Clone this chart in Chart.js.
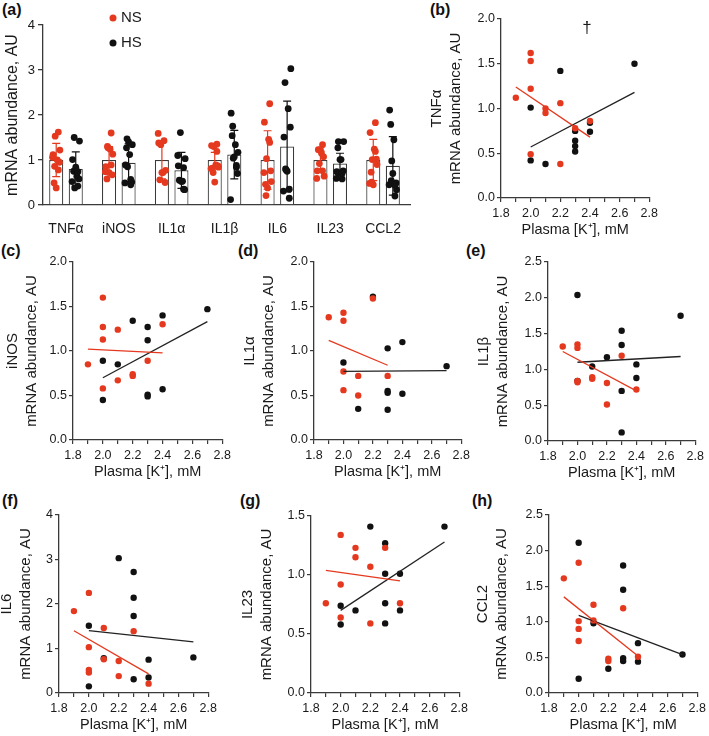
<!DOCTYPE html>
<html>
<head>
<meta charset="utf-8">
<script src="https://cdn.jsdelivr.net/npm/chart.js@4"></script>
<style>
  body { margin: 0; background: #fff; width: 709px; height: 736px; position: relative; overflow: hidden;
         font-family: Arial, "Liberation Sans", sans-serif; }
  canvas { position: absolute; }
  .tag { position: absolute; font-weight: bold; font-size: 16px; line-height: 16px; color: #111; }
</style>
</head>
<body>
<div class="tag" style="left:2px;top:2px">(a)</div>
<div class="tag" style="left:430px;top:2px">(b)</div>
<div class="tag" style="left:1px;top:243px">(c)</div>
<div class="tag" style="left:238px;top:243px">(d)</div>
<div class="tag" style="left:466px;top:243px">(e)</div>
<div class="tag" style="left:2px;top:493px">(f)</div>
<div class="tag" style="left:240px;top:493px">(g)</div>
<div class="tag" style="left:472px;top:493px">(h)</div>

<canvas id="barChart"></canvas>
<canvas id="tnfChart"></canvas>
<canvas id="inosChart"></canvas>
<canvas id="il1aChart"></canvas>
<canvas id="il1bChart"></canvas>
<canvas id="il6Chart"></canvas>
<canvas id="il23Chart"></canvas>
<canvas id="ccl2Chart"></canvas>

<script>
const genes = ["TNFα", "iNOS", "IL1α", "IL1β", "IL6", "IL23", "CCL2"];

// bar heights and SD (panel a)
const nsMean = [1.0, 1.0, 1.0, 1.0, 1.0, 1.0, 1.0];
const hsMean = [0.80, 0.94, 0.77, 1.12, 1.30, 0.92, 0.87];
const nsSD = [0.37, 0.30, 0.42, 0.17, 0.65, 0.20, 0.46];
const hsSD = [0.38, 0.42, 0.40, 0.54, 1.01, 0.23, 0.65];

// plasma K+ of each animal, same order in every gene list below
const nsK = [1.9, 2.0, 2.0, 2.0, 2.0, 2.1, 2.1, 2.2, 2.2, 2.3, 2.4];
const hsK = [2.0, 2.0, 2.1, 2.2, 2.3, 2.3, 2.3, 2.3, 2.4, 2.4, 2.7];

const nsTNFa = [1.12, 1.62, 1.53, 1.22, 0.49, 1.00, 0.95, 1.06, 0.38, 0.78, 0.86];
const hsTNFa = [1.01, 0.42, 0.38, 1.42, 0.75, 0.64, 0.58, 0.52, 0.84, 0.74, 1.50];
const nsINOS = [0.85, 1.60, 1.27, 1.13, 0.58, 1.24, 0.67, 0.74, 0.72, 0.89, 1.30];
const hsINOS = [0.89, 0.45, 0.85, 1.34, 1.27, 1.12, 0.51, 0.49, 1.40, 0.57, 1.47];
const nsIL1a = [1.38, 1.43, 1.34, 0.77, 0.56, 0.72, 0.50, 1.59, null, 0.72, null];
const hsIL1a = [0.87, null, 0.35, 1.61, 1.03, 0.55, 0.53, 0.34, 1.10, 0.52, 0.83];
const nsIL1b = [1.32, 1.35, 1.30, 0.84, 0.82, 0.89, 0.87, 0.81, 0.51, 1.19, 0.72];
const hsIL1b = [2.04, 0.84, 1.04, 1.17, 1.54, 1.34, 0.70, 0.12, 1.07, 0.88, 1.75];
const nsIL6 = [1.84, 2.25, 1.03, 0.52, 0.46, 1.46, 0.76, 0.72, 0.38, 1.39, 0.21];
const hsIL6 = [1.51, 0.15, 0.78, 3.03, 2.72, 2.14, 1.73, 0.31, 0.75, 0.35, 0.80];
const nsIL23 = [0.76, 1.34, 0.92, 0.64, null, 1.23, 1.15, 1.07, 0.59, 1.23, 0.76];
const hsIL23 = [0.74, 0.58, 0.70, 1.41, 1.27, 1.01, 0.76, 0.59, 1.01, 0.70, 1.41];
const nsCCL2 = [1.61, 1.83, 1.01, 0.90, 0.73, 1.24, 1.02, 0.48, 0.45, 1.19, 0.51];
const hsCCL2 = [2.11, 0.20, 0.98, 0.34, 1.79, 1.45, 0.49, 0.45, 0.70, 0.44, 0.54];

const nsVals = [nsTNFa, nsINOS, nsIL1a, nsIL1b, nsIL6, nsIL23, nsCCL2];
const hsVals = [hsTNFa, hsINOS, hsIL1a, hsIL1b, hsIL6, hsIL23, hsCCL2];

// regression line ends (K+, value)
const nsFitK = [[1.9, 2.4], [1.9, 2.4], [1.9, 2.3], [1.9, 2.4], [1.9, 2.4], [1.9, 2.4], [1.9, 2.4]];
const nsFitY = [[1.24, 0.68], [1.02, 0.98], [1.12, 0.84], [1.25, 0.70], [1.40, 0.43], [1.04, 0.95], [1.35, 0.52]];
const hsFitK = [[2.0, 2.7], [2.0, 2.7], [2.0, 2.7], [2.0, 2.7], [2.0, 2.7], [2.0, 2.7], [2.0, 2.7]];
const hsFitY = [[0.57, 1.18], [0.70, 1.33], [0.77, 0.78], [1.10, 1.18], [1.40, 1.15], [0.70, 1.28], [1.09, 0.54]];

const yMax = [2, 2, 2, 2.5, 4, 1.5, 2.5];
const yStep = [0.5, 0.5, 0.5, 0.5, 1, 0.5, 0.5];

const RED = "#e5391f";
const BLACK = "#111111";
const AXIS = "#3a3a3a";
const FONT = 'Arial, "Liberation Sans", sans-serif';

Chart.defaults.font.family = FONT;
Chart.defaults.color = "#1a1a1a";
Chart.defaults.animation = false;
Chart.defaults.plugins.legend.display = false;
Chart.defaults.plugins.tooltip.enabled = false;

// error bars over the bars of panel a
const errorBars = {
  id: "errorBars",
  afterDatasetDraw(chart, args) {
    const ds = chart.data.datasets[args.index];
    if (!ds.sd) return;
    const ctx = chart.ctx;
    const y = chart.scales.y;
    ctx.save();
    ctx.strokeStyle = ds.errColor;
    ctx.lineWidth = 1.2;
    args.meta.data.forEach((bar, i) => {
      const m = ds.data[i].y;
      const top = y.getPixelForValue(m + ds.sd[i]);
      const bot = y.getPixelForValue(m - ds.sd[i]);
      ctx.beginPath();
      ctx.moveTo(bar.x, top); ctx.lineTo(bar.x, bot);
      ctx.moveTo(bar.x - 4, top); ctx.lineTo(bar.x + 4, top);
      ctx.moveTo(bar.x - 4, bot); ctx.lineTo(bar.x + 4, bot);
      ctx.stroke();
    });
    ctx.restore();
  }
};

// NS / HS key of panel a
const dotKey = {
  id: "dotKey",
  afterDraw(chart) {
    const ctx = chart.ctx;
    const a = chart.chartArea;
    const rows = [["NS", RED, -7], ["HS", BLACK, 18]];
    ctx.save();
    ctx.font = "15px " + FONT;
    ctx.textBaseline = "middle";
    rows.forEach(r => {
      ctx.fillStyle = r[1];
      ctx.beginPath();
      ctx.arc(a.left + 70, a.top + r[2], 3.5, 0, Math.PI * 2);
      ctx.fill();
      ctx.fillStyle = "#1a1a1a";
      ctx.fillText(r[0], a.left + 78, a.top + r[2]);
    });
    ctx.restore();
  }
};

// dagger mark of panel b
const dagger = {
  id: "dagger",
  afterDatasetsDraw(chart, args, opts) {
    if (!opts.text) return;
    const ctx = chart.ctx;
    ctx.save();
    ctx.font = "17px " + FONT;
    ctx.fillStyle = "#1a1a1a";
    ctx.textAlign = "center";
    ctx.textBaseline = "middle";
    ctx.fillText(opts.text, chart.scales.x.getPixelForValue(opts.at[0]), chart.scales.y.getPixelForValue(opts.at[1]));
    ctx.restore();
  }
};

// put a canvas so that its plot area lands on the given box
function place(cv, area, axisLeft, padT, padR, xH) {
  const cl = Math.round(axisLeft);
  const ct = Math.round(area[1]) - padT;
  cv.style.left = cl + "px";
  cv.style.top = ct + "px";
  cv.width = Math.round(area[2]) - cl + padR;
  cv.height = Math.round(area[3]) - ct + xH;
  return Math.round(area[0]) - cl;
}

// ---- panel a ----
const spread = [-0.06, 0.04, -0.02, 0.07, -0.04, 0.02, 0.06, -0.07, 0.0, 0.04, -0.03];
const half = 0.185;
function groupPoints(vals, side) {
  const pts = [];
  vals.forEach((list, g) => {
    let j = 0;
    list.forEach(v => {
      if (v === null) return;
      pts.push({ x: g + side * half + spread[j % spread.length], y: v });
      j++;
    });
  });
  return pts;
}

const barCv = document.getElementById("barChart");
const barYW = place(barCv, [43, 25, 410, 205], 0, 20, 10, 30);
new Chart(barCv, {
  type: "bar",
  data: {
    datasets: [
      { type: "scatter", data: groupPoints(nsVals, -1), backgroundColor: RED, borderWidth: 0, pointRadius: 3.4 },
      { type: "scatter", data: groupPoints(hsVals, 1), backgroundColor: BLACK, borderWidth: 0, pointRadius: 3.4 },
      { type: "bar", data: nsMean.map((v, i) => ({ x: i, y: v })), sd: nsSD, errColor: RED,
        backgroundColor: "#ffffff", borderColor: AXIS, borderWidth: 1.2,
        categoryPercentage: 0.74, barPercentage: 0.72 },
      { type: "bar", data: hsMean.map((v, i) => ({ x: i, y: v })), sd: hsSD, errColor: BLACK,
        backgroundColor: "#ffffff", borderColor: AXIS, borderWidth: 1.2,
        categoryPercentage: 0.74, barPercentage: 0.72 }
    ]
  },
  options: {
    responsive: false,
    layout: { padding: { top: 20, right: 10, left: 0, bottom: 0 } },
    scales: {
      x: {
        type: "linear", offset: false, min: -0.435, max: 6.51,
        afterFit: s => { s.height = 30; },
        grid: { display: false },
        border: { color: AXIS, width: 1.3 },
        ticks: {
          stepSize: 1, includeBounds: false, autoSkip: false, maxRotation: 0, padding: 8,
          font: { size: 14 },
          callback: v => Number.isInteger(v) ? genes[v] : ""
        }
      },
      y: {
        min: 0, max: 4,
        afterFit: s => { s.width = barYW; },
        grid: { drawOnChartArea: false, tickLength: 5, color: AXIS, lineWidth: 1.3 },
        border: { color: AXIS, width: 1.3 },
        ticks: { stepSize: 1, padding: 3, font: { size: 13 } },
        title: { display: true, text: "mRNA abundance, AU", font: { size: 16, lineHeight: 1.2 }, padding: { top: 3, bottom: 4 } }
      }
    }
  },
  plugins: [errorBars, dotKey]
});

// ---- panels b-h ----
function pairs(ks, vals) {
  const out = [];
  ks.forEach((k, i) => { if (vals[i] !== null) out.push({ x: k, y: vals[i] }); });
  return out;
}

function scatterPanel(id, g, area, titleX, mark) {
  const lh = 15 * 1.22;
  const cv = document.getElementById(id);
  const yW = place(cv, area, titleX - 4 - lh / 2, 10, 12, 45);
  new Chart(cv, {
    type: "scatter",
    data: {
      datasets: [
        { data: [{ x: nsFitK[g][0], y: nsFitY[g][0] }, { x: nsFitK[g][1], y: nsFitY[g][1] }],
          showLine: true, pointRadius: 0, borderColor: RED, borderWidth: 1.3 },
        { data: [{ x: hsFitK[g][0], y: hsFitY[g][0] }, { x: hsFitK[g][1], y: hsFitY[g][1] }],
          showLine: true, pointRadius: 0, borderColor: "#222222", borderWidth: 1.3 },
        { data: pairs(nsK, nsVals[g]), backgroundColor: RED, borderWidth: 0, pointRadius: 3.2 },
        { data: pairs(hsK, hsVals[g]), backgroundColor: BLACK, borderWidth: 0, pointRadius: 3.2 }
      ]
    },
    options: {
      responsive: false,
      clip: false,
      layout: { padding: { top: 10, right: 12, left: 0, bottom: 0 } },
      plugins: { dagger: mark || {} },
      scales: {
        x: {
          type: "linear", min: 1.8, max: 2.8,
          afterFit: s => { s.height = 45; },
          grid: { drawOnChartArea: false, tickLength: 4, color: AXIS, lineWidth: 1.2 },
          border: { color: AXIS, width: 1.3 },
          ticks: {
            stepSize: 0.1, autoSkip: false, maxRotation: 0, padding: 4, font: { size: 12.5 },
            callback: v => Math.round(v * 10) % 2 === 0 ? v.toFixed(1) : ""
          },
          title: { display: true, text: "Plasma [K⁺], mM", font: { size: 14.5, lineHeight: 1.2 }, padding: { top: 2, bottom: 4 } }
        },
        y: {
          min: 0, max: yMax[g],
          afterFit: s => { s.width = yW; },
          grid: { drawOnChartArea: false, tickLength: 4, color: AXIS, lineWidth: 1.2 },
          border: { color: AXIS, width: 1.3 },
          ticks: {
            stepSize: yStep[g], padding: 2, font: { size: 12.5 },
            callback: v => yStep[g] < 1 ? v.toFixed(1) : String(v)
          },
          title: { display: true, text: [genes[g], "mRNA abundance, AU"], font: { size: 15, lineHeight: 1.22 }, padding: { top: 4, bottom: 4 } }
        }
      }
    },
    plugins: [dagger]
  });
}

scatterPanel("tnfChart", 0, [501, 19, 650, 198], 436.7, { text: "†", at: [2.38, 1.9] });
scatterPanel("inosChart", 1, [73, 262, 223, 440], 13.3);
scatterPanel("il1aChart", 2, [314, 262, 462, 440], 250);
scatterPanel("il1bChart", 3, [548, 262, 696, 441], 484);
scatterPanel("il6Chart", 4, [59, 515, 209, 693], 7.3);
scatterPanel("il23Chart", 5, [311, 516, 460, 693], 248.3);
scatterPanel("ccl2Chart", 6, [549, 515, 698, 693], 483.3);
</script>
</body>
</html>
